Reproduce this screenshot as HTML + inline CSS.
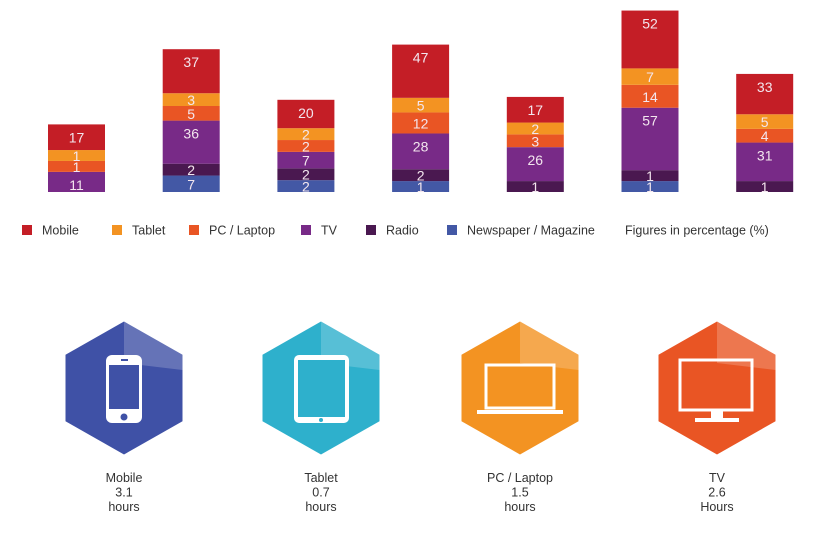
<!DOCTYPE html>
<html><head><meta charset="utf-8"><style>
body{margin:0;background:#fff;width:824px;height:545px;overflow:hidden;font-family:"Liberation Sans",sans-serif}
svg{display:block}
</style></head><body>
<svg id="chart" width="824" height="545" viewBox="0 0 824 545">
<g id="bars"></g>
<g id="legend"></g>
<g id="hexes"></g>
</svg>
<script>
const series = ["Newspaper / Magazine","Radio","TV","PC / Laptop","Tablet","Mobile"];
const colors = ["#4358a5","#4a1850","#782a87","#e95524","#f39322","#c41e26"];
const newspaper = [0,7,2,1,0,1,0];
const radio     = [0,2,2,2,1,1,1];
const tv        = [11,36,7,28,26,57,31];
const pc        = [1,5,2,12,3,14,4];
const tablet    = [1,3,2,5,2,7,5];
const mobile    = [17,37,20,47,17,52,33];
const values = [newspaper,radio,tv,pc,tablet,mobile];
const legendOrder = ["Mobile","Tablet","PC / Laptop","TV","Radio","Newspaper / Magazine"];
const deviceNames = ["Mobile","Tablet","PC / Laptop","TV"];
const deviceHours = ["3.1","0.7","1.5","2.6"];
const deviceUnits = ["hours","hours","hours","Hours"];
const deviceColors = ["#3f51a6","#2eb0cc","#f39322","#e95524"];

const NS="http://www.w3.org/2000/svg";
function mk(tag,attrs,parent){const e=document.createElementNS(NS,tag);for(const k in attrs)e.setAttribute(k,attrs[k]);parent.appendChild(e);return e;}
const xPos=i=>48+i*114.7;
const segH=v=>10+0.92*v;
const baseY=192, barW=57;
const bars=document.getElementById('bars');
for(let i=0;i<mobile.length;i++){
  let y=baseY;
  for(let s=0;s<values.length;s++){
    const v=values[s][i]; if(!v) continue;
    const h=segH(v); y-=h;
    const r=mk('rect',{x:xPos(i),y:y,width:barW,height:h,fill:colors[s]},bars);
    
    
    const ty = (s===5||s===2)&&v>10 ? y+18 : y+h/2+5.5;
    const t=mk('text',{x:xPos(i)+barW/2,y:ty,'text-anchor':'middle','font-size':'14',fill:'#f3e6ee'},bars);
    t.textContent=v;
    
    
  }
}
const legend=document.getElementById('legend');
const lx=[22,112,189,301,366,447];
legendOrder.forEach((n,k)=>{
  const s=5-k;
  const r=mk('rect',{x:lx[k],y:225,width:10,height:10,fill:colors[s]},legend);
  
  
  const t=mk('text',{x:lx[k]+20,y:234.5,'font-size':'12.5',fill:'#333'},legend);
  t.textContent=n;
  
  
});
const note=mk('text',{x:625,y:234.5,'font-size':'12.5',fill:'#333'},legend);
note.textContent="Figures in percentage (%)";



const hexes=document.getElementById('hexes');
const cx=[124,321,520,717], cy=388, hw=58.5, hh=66.5;
const icons=[
 c=>`<rect x="${c-18}" y="355" width="36" height="68" rx="6" fill="#fff"/><rect x="${c-15}" y="365" width="30" height="44" fill="${deviceColors[0]}"/><circle cx="${c}" cy="417" r="3.5" fill="${deviceColors[0]}"/><rect x="${c-3}" y="359" width="7" height="2" fill="${deviceColors[0]}"/>`,
 c=>`<rect x="${c-27}" y="355" width="55" height="68" rx="5" fill="#fff"/><rect x="${c-23}" y="360" width="47" height="57" fill="${deviceColors[1]}"/><circle cx="${c}" cy="420" r="2" fill="${deviceColors[1]}"/>`,
 c=>`<rect x="${c-34}" y="365" width="68" height="43" fill="none" stroke="#fff" stroke-width="3"/><rect x="${c-43}" y="410" width="86" height="4" fill="#fff"/>`,
 c=>`<rect x="${c-37}" y="360" width="72" height="50" fill="none" stroke="#fff" stroke-width="3"/><rect x="${c-6}" y="410" width="12" height="9" fill="#fff"/><rect x="${c-22}" y="418" width="44" height="4" fill="#fff"/>`
];
cx.forEach((c,i)=>{
  const g=mk('g',{},hexes);
  
  
  const pts=[[c,cy-hh],[c+hw,cy-hh/2],[c+hw,cy+hh/2],[c,cy+hh],[c-hw,cy+hh/2],[c-hw,cy-hh/2]].map(p=>p.join(',')).join(' ');
  mk('polygon',{points:pts,fill:deviceColors[i]},g);
  mk('polygon',{points:`${c},${cy-hh} ${c+hw},${cy-hh/2} ${c+hw},${cy-18} ${c},${cy-25}`,fill:'#fff','fill-opacity':'0.2'},g);
  g.insertAdjacentHTML('beforeend',icons[i](c));
  [deviceNames[i],deviceHours[i],deviceUnits[i]].forEach((txt,j)=>{
    const t=mk('text',{x:c,y:482+j*14.5,'text-anchor':'middle','font-size':'12.5',fill:'#333'},g);
    t.textContent=txt;
    
    
  });
});
</script>
</body></html>
